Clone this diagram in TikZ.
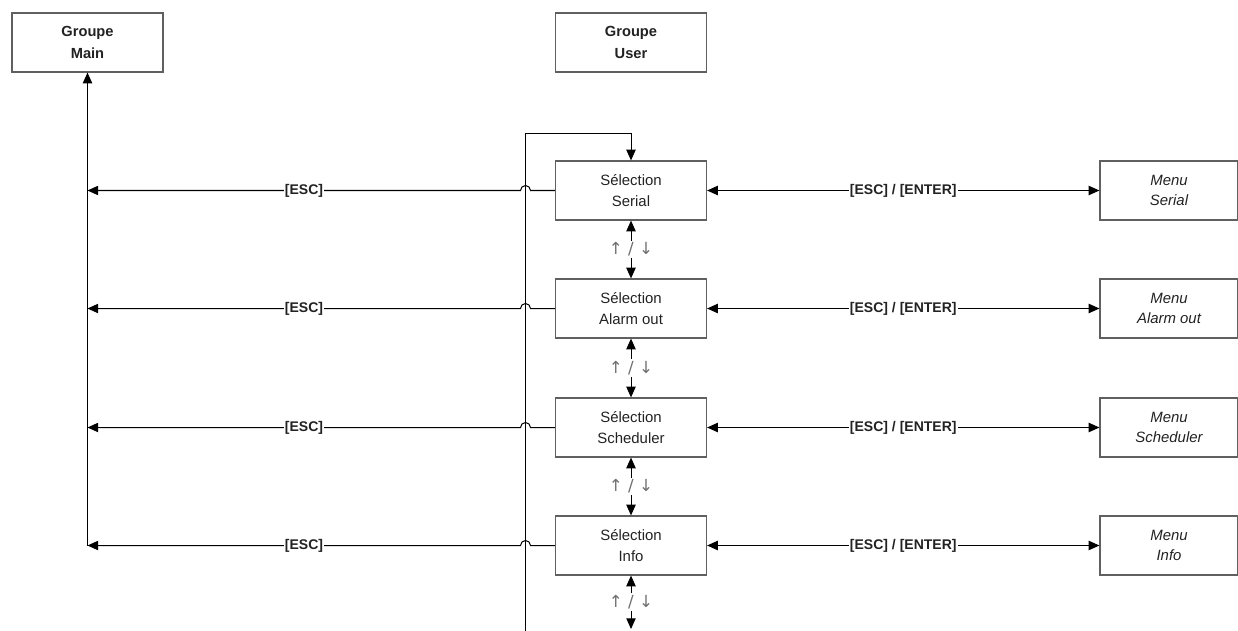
\documentclass[tikz,border=0pt]{standalone}
\usepackage{fontspec}
\setmainfont{Liberation Sans}
\newfontfamily\arrfont{DejaVu Sans}
\usetikzlibrary{arrows.meta}
\definecolor{boxgray}{HTML}{606060}
\definecolor{txt}{HTML}{222222}
\definecolor{arrgray}{HTML}{707070}
\tikzset{
  box/.style={draw=boxgray, line width=0.9pt, minimum width=113.25pt, minimum height=44.25pt, inner sep=0pt, align=center, font=\fontsize{11.2}{15.5}\selectfont, text=txt},
  grp/.style={box, font=\fontsize{11}{16}\selectfont\bfseries},
  menubox/.style={box, minimum width=103.5pt, font=\fontsize{11.2}{15.5}\selectfont\itshape},
  conn/.style={draw=black, line width=0.75pt},
  tip/.style={-{Triangle[length=8pt,width=7pt]}},
  dtip/.style={{Triangle[length=8pt,width=7pt]}-{Triangle[length=8pt,width=7pt]}},
  lbl/.style={fill=white, inner sep=0.8pt, font=\fontsize{10.5}{12}\selectfont\bfseries, text=txt},
  ulbl/.style={fill=white, inner sep=1.5pt, font=\arrfont\fontsize{12.5}{13}\selectfont, text=arrgray}
}
\begin{document}
\begin{tikzpicture}[x=0.75pt,y=-0.75pt]
\useasboundingbox (0,0) rectangle (1238,631);
\node[grp] (main) at (87.5,42.5) {Groupe\\Main};
\node[grp] (user) at (631,42.5) {Groupe\\User};
\node[box] (s1) at (631,190.5) {Sélection\\Serial};
\node[box] (s2) at (631,308.5) {Sélection\\Alarm out};
\node[box] (s3) at (631,427.5) {Sélection\\Scheduler};
\node[box] (s4) at (631,545.5) {Sélection\\Info};
\node[menubox] (m1) at (1169,190.5) {Menu\\Serial};
\node[menubox] (m2) at (1169,308.5) {Menu\\Alarm out};
\node[menubox] (m3) at (1169,427.5) {Menu\\Scheduler};
\node[menubox] (m4) at (1169,545.5) {Menu\\Info};
\coordinate (loopbot) at (525.5,631);
\coordinate (looptop) at (525.5,133.5);
\coordinate (bot) at (631,629);
\coordinate (mainbot) at (87.5,545.5);
% main vertical
\draw[conn,tip] (mainbot) -- (main.south -| mainbot);
% loop line
\draw[conn,tip] (loopbot) -- (looptop) -| (s1.north);
% ESC lines with hops
\foreach \s in {s1,s2,s3,s4}{
  \draw[conn,tip] (\s.west) -- ([xshift=5*0.75pt]\s.west -| looptop) arc[start angle=0,end angle=180,radius=3.75pt] -- node[lbl, pos=0.5]{[ESC]} (\s.west -| mainbot);
}
% ESC/ENTER
\foreach \s/\m in {s1/m1,s2/m2,s3/m3,s4/m4}{
  \draw[conn,dtip] (\s.east) -- node[lbl]{[ESC] / [ENTER]} (\m.west);
}
% up/down
\draw[conn,dtip] (s1.south) -- node[ulbl]{↑ / ↓} (s2.north);
\draw[conn,dtip] (s2.south) -- node[ulbl]{↑ / ↓} (s3.north);
\draw[conn,dtip] (s3.south) -- node[ulbl]{↑ / ↓} (s4.north);
\draw[conn,dtip] (s4.south) -- node[ulbl]{↑ / ↓} (bot);
\end{tikzpicture}
\end{document}
